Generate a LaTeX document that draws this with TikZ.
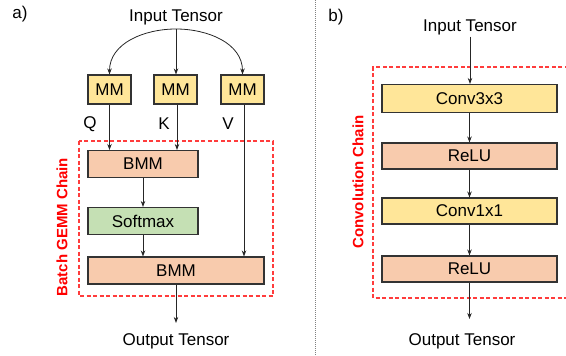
\documentclass[tikz,border=0pt]{standalone}
\usepackage{fontspec}
\setmainfont{Liberation Sans}
\usetikzlibrary{arrows.meta}
\definecolor{opyellow}{HTML}{FFE699}
\definecolor{oppeach}{HTML}{F8CBAD}
\definecolor{opgreen}{HTML}{C5E0B4}
\definecolor{opedge}{HTML}{333333}
\definecolor{chainred}{HTML}{FF0000}
\definecolor{chainline}{HTML}{FF3C3C}
\tikzset{
  op/.style={draw=opedge, line width=1.1pt, inner sep=0pt, font=\fontsize{17}{20}\selectfont},
  mmbox/.style={op, fill=opyellow, minimum width=43pt, minimum height=29pt},
  widebox/.style={op, minimum height=27pt},
  tensor/.style={inner sep=0pt, anchor=base, font=\fontsize{17}{20}\selectfont},
  lbl/.style={inner sep=0pt, font=\fontsize{17}{20}\selectfont},
  flow/.style={-{Stealth[length=6pt,width=4.5pt]}, line width=0.8pt, black!85},
  chainbox/.style={draw=chainline, line width=1.3pt, dash pattern=on 4pt off 2.5pt},
  chainlabel/.style={text=chainred, rotate=90, inner sep=0pt, font=\fontsize{15}{18}\selectfont\bfseries}
}
\begin{document}
\begin{tikzpicture}[x=1pt, y=-1pt]
\useasboundingbox (0,0) rectangle (566,356);

% ---- panel a: attention-style batch GEMM chain ----
\node[lbl] (taga) at (20,14) {a)};
\node[tensor] (in1) at (176,21) {Input Tensor};
\coordinate (fork) at (176,29);

\node[mmbox] (mmq) at (109.5,89.5) {MM};
\node[mmbox] (mmk) at (175.5,89.5) {MM};
\node[mmbox] (mmv) at (242.5,89.5) {MM};

\draw[chainbox] (79,141) rectangle (273,296);
\node[chainlabel] (gemmlbl) at (62,227) {Batch GEMM Chain};

\node[widebox, fill=oppeach, minimum width=110pt] (bmm1) at (143,164) {BMM};
\node[widebox, fill=opgreen, minimum width=110pt] (soft) at (143,221) {Softmax};
\node[widebox, fill=oppeach, minimum width=176pt] (bmm2) at (176,270.5) {BMM};
\node[tensor] (out1) at (176,345) {Output Tensor};

\node[lbl] (qlbl) at (90,124) {Q};
\node[lbl] (klbl) at (164,124) {K};
\node[lbl] (vlbl) at (228,124) {V};

\draw[flow] (fork) to[out=180, in=90] (mmq.north);
\draw[flow] (fork) -- (fork |- mmk.north);
\draw[flow] (fork) to[out=0, in=90] (mmv.north);

\draw[flow] (mmq.south) -- (mmq.south |- bmm1.north);
\draw[flow] ([xshift=1.5pt]mmk.south) -- ([xshift=1.5pt]mmk.south |- bmm1.north);
\draw[flow] ([xshift=1.5pt]mmv.south) -- ([xshift=1.5pt]mmv.south |- bmm2.north);
\draw[flow] (bmm1.south) -- (soft.north);
\draw[flow] (soft.south) -- (soft.south |- bmm2.north);
\draw[flow] (bmm2.south) -- ([yshift=10pt]out1.north);

% ---- separator ----
\draw[gray, line width=0.8pt, dash pattern=on 1pt off 1pt] (315,0) -- (315,356);

% ---- panel b: convolution chain ----
\node[lbl] (tagb) at (336,17) {b)};
\node[tensor] (in2) at (470,31) {Input Tensor};

\draw[chainbox] (575,67) -- (373,67) -- (373,298) -- (575,298);
\node[chainlabel] (convlbl) at (358,182) {Convolution Chain};

\node[widebox, fill=opyellow, minimum width=175pt, minimum height=28pt] (conv3) at (469.5,98.5) {Conv3x3};
\node[widebox, fill=oppeach, minimum width=175pt, minimum height=26pt] (relu1) at (469.5,156) {ReLU};
\node[widebox, fill=opyellow, minimum width=175pt, minimum height=26pt] (conv1) at (469.5,211) {Conv1x1};
\node[widebox, fill=oppeach, minimum width=175pt, minimum height=26pt] (relu2) at (469.5,269) {ReLU};
\node[tensor] (out2) at (462,345) {Output Tensor};

\draw[flow, shorten <=2pt] (in2.south) -- (in2.south |- conv3.north);
\draw[flow] (conv3.south) -- (relu1.north);
\draw[flow] (relu1.south) -- (conv1.north);
\draw[flow] (conv1.south) -- (relu2.north);
\draw[flow, shorten >=14pt] (relu2.south) -- (relu2.south |- out2.north);
\end{tikzpicture}
\end{document}
